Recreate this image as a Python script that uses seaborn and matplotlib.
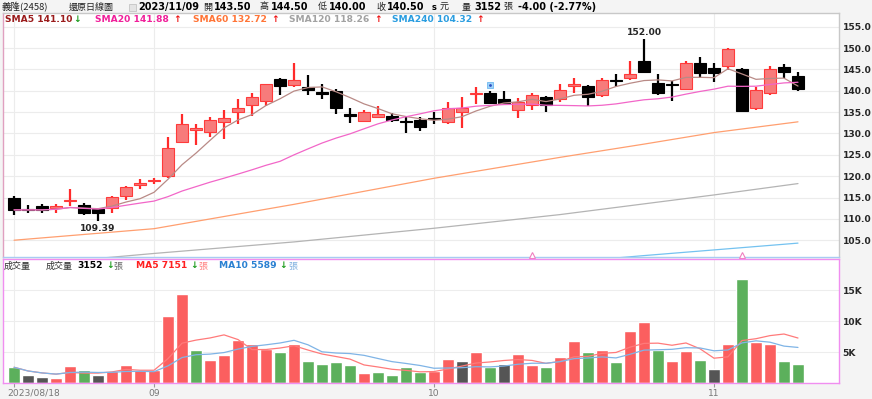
import numpy as np
import pandas as pd
import seaborn as sns
from matplotlib import pyplot as plt
from matplotlib import transforms
from matplotlib.patches import Rectangle

W, H = 872, 399
CJK = ["Noto Sans CJK TC", "DejaVu Sans"]

# daily candles, 2023/08/18 .. 2023/11/09
opens = [115.0, 112.3, 113.0, 112.6, 114.1, 113.2, 112.4, 112.5, 115.3, 118.0,
         118.8, 120.0, 128.1, 130.9, 130.4, 132.7, 135.0, 136.6, 137.7, 142.7,
         141.4, 140.9, 139.8, 140.0, 134.4, 133.0, 133.9, 134.1, 132.9, 133.15,
         133.6, 132.6, 135.0, 139.2, 139.5, 138.0, 135.5, 136.7, 138.6, 138.1,
         141.2, 141.0, 139.0, 142.4, 142.9, 147.0, 141.9, 141.5, 140.4, 146.4,
         145.4, 145.9, 145.1, 135.9, 139.4, 145.5, 143.5]
highs = [115.4, 113.2, 113.5, 113.5, 116.9, 113.6, 112.6, 115.4, 117.6, 119.3,
         119.5, 129.2, 134.6, 132.2, 133.8, 135.5, 138.0, 139.5, 141.6, 143.0,
         146.4, 143.6, 141.6, 140.3, 135.9, 135.5, 136.4, 134.9, 133.9, 133.8,
         135.1, 137.4, 138.5, 140.95, 140.0, 140.0, 138.4, 139.5, 138.7, 141.5,
         143.05, 141.3, 142.9, 143.85, 147.0, 152.0, 143.85, 142.3, 147.0, 148.0,
         146.4, 150.1, 145.3, 140.95, 145.9, 146.2, 144.5]
lows = [110.9, 111.3, 111.4, 111.3, 113.0, 110.9, 109.39, 111.3, 114.4, 116.9,
        118.2, 119.5, 127.7, 127.3, 129.1, 128.6, 132.2, 134.1, 136.4, 139.0,
        140.9, 138.9, 138.0, 134.6, 132.5, 132.6, 133.8, 132.7, 130.0, 130.6,
        132.2, 132.3, 131.2, 136.8, 137.0, 136.7, 133.55, 135.5, 135.0, 137.4,
        139.4, 136.5, 138.6, 140.95, 142.5, 144.1, 139.0, 137.6, 140.1, 143.05,
        142.1, 144.9, 134.95, 135.5, 139.0, 142.9, 140.0]
closes = [112.1, 112.1, 112.1, 112.7, 114.3, 111.4, 111.4, 115.2, 117.4, 118.2,
          118.9, 126.7, 132.2, 131.0, 133.1, 133.5, 136.0, 138.5, 141.6, 141.0,
          142.5, 140.1, 139.3, 135.9, 134.2, 135.1, 134.6, 133.2, 132.7, 131.6,
          133.3, 136.0, 136.0, 139.4, 137.1, 137.1, 137.4, 139.0, 136.7, 140.2,
          141.35, 138.6, 142.5, 142.3, 144.0, 144.5, 139.4, 141.3, 146.4, 144.1,
          144.1, 149.8, 135.25, 140.1, 145.1, 144.5, 140.5]

# volume in lots, and its colour class (close vs previous close)
volume = [2550, 1350, 1000, 860, 2760, 2060, 1350, 1950, 2920, 2060,
          2060, 10800, 14450, 5400, 3800, 4550, 7000, 6300, 5500, 5000,
          6400, 3500, 3100, 3460, 2900, 1680, 1840, 1250, 2550, 1730,
          1900, 3950, 3600, 5000, 2600, 3100, 4700, 2900, 2600, 4200,
          6800, 5100, 5300, 3350, 8500, 9850, 5300, 3600, 5200, 3800,
          2200, 6400, 16800, 6700, 6300, 3500, 3152]
vol_dir = ["down", "flat", "flat", "up", "up", "down", "flat", "up", "up", "up",
           "up", "up", "up", "down", "up", "up", "up", "up", "up", "down",
           "up", "down", "down", "down", "down", "up", "down", "down", "down", "down",
           "up", "up", "flat", "up", "down", "flat", "up", "up", "down", "up",
           "up", "down", "up", "down", "up", "up", "down", "up", "up", "down",
           "flat", "up", "down", "up", "up", "down", "down"]

# long moving averages read at a few candles
sma60_at = [0, 10, 20, 30, 39, 45, 50, 56]
sma60 = [105.0, 107.7, 113.4, 119.5, 124.4, 127.5, 130.2, 132.72]
sma120_at = [0, 10, 20, 30, 39, 50, 56]
sma120 = [99.0, 101.9, 104.6, 107.8, 111.0, 115.6, 118.26]
sma240_at = [0, 20, 40, 45, 56]
sma240 = [90.0, 95.0, 100.0, 101.4, 104.32]

tick_pos = [0, 10, 30, 50]
tick_labels = ["2023/08/18", "09", "10", "11"]
price_ticks = [105, 110, 115, 120, 125, 130, 135, 140, 145, 150, 155]
vol_ticks = [5, 10, 15]


def main():
    sns.set_style("white")
    plt.rcParams["font.family"] = CJK

    fig = plt.figure(figsize=(W / 100, H / 100), dpi=100, facecolor="#f4f4f4")
    ax = fig.add_axes([3 / W, 1 - 257 / H, 836 / W, 244 / H])
    axv = fig.add_axes([3 / W, 1 - 383 / H, 836 / W, 124 / H])

    x = np.arange(len(closes))
    o, h, l, c = map(np.array, (opens, highs, lows, closes))
    up = c > o

    # candles
    ax.vlines(x[up], l[up], h[up], colors="#ff2a2a", lw=1.6, zorder=2)
    ax.vlines(x[~up], l[~up], h[~up], colors="black", lw=1.6, zorder=2)
    body_h = np.maximum(np.abs(c - o), 0.3)
    body_b = np.minimum(o, c)
    ax.bar(x[up], body_h[up], bottom=body_b[up], width=0.88, color="#f77b7b",
           edgecolor="#ff3b3b", lw=0.8, zorder=3)
    ax.bar(x[~up], body_h[~up], bottom=body_b[~up], width=0.88, color="black",
           edgecolor="black", lw=0.8, zorder=3)

    close_s = pd.Series(closes)
    sns.lineplot(x=x, y=close_s.rolling(5, min_periods=1).mean(), ax=ax,
                 color="#b98a86", lw=0.9, zorder=4)
    sns.lineplot(x=x, y=close_s.rolling(20, min_periods=1).mean(), ax=ax,
                 color="#f266c8", lw=0.9, zorder=4)
    sns.lineplot(x=sma60_at, y=sma60, ax=ax, color="#ff9f70", lw=0.9, zorder=1)
    sns.lineplot(x=sma120_at, y=sma120, ax=ax, color="#b4b4b4", lw=0.9, zorder=1)
    sns.lineplot(x=sma240_at, y=sma240, ax=ax, color="#74c2f0", lw=0.9, zorder=1)

    ax.annotate("152.00", (45, highs[45]), xytext=(0, 2), textcoords="offset points",
                ha="center", va="bottom", fontsize=6.6, fontweight="bold",
                family="DejaVu Sans")
    ax.annotate("109.39", (6, lows[6]), xytext=(0, -1.5), textcoords="offset points",
                ha="center", va="top", fontsize=6.6, fontweight="bold",
                family="DejaVu Sans")
    ax.plot([34], [141.4], marker="s", ms=4.5, mfc="#9fd4fb", mec="#6fb8f0",
            mew=0.6, zorder=5)
    ax.plot([34], [141.4], marker=".", ms=2, color="#3050c0", zorder=6)

    ax.set_xlim(-0.79, 58.93)
    ax.set_ylim(101.07, 158.2)
    ax.plot([37, 52], [101.6, 101.6], ls="none", marker="^", ms=5, mfc="white",
            mec="#f080c0", mew=0.8, clip_on=False, zorder=6)
    ax.set_xticks(tick_pos)
    ax.set_yticks(price_ticks, [f"{t:.1f}" for t in price_ticks])
    ax.yaxis.tick_right()
    ax.tick_params(axis="x", length=0, labelbottom=False)
    ax.tick_params(axis="y", length=0, pad=2.5, labelsize=6.6)
    for t in ax.get_yticklabels():
        t.set_fontweight("bold")
        t.set_family("DejaVu Sans")
    ax.grid(True, color="#ececec", lw=0.8)
    ax.set_axisbelow(True)
    ax.set_xlabel("")
    ax.set_ylabel("")
    for side in ("top", "right"):
        ax.spines[side].set_color("#c8c8c8")
    ax.spines["left"].set_color("#e0a0c0")
    ax.spines["bottom"].set_color("#a8ccf2")
    for s in ax.spines.values():
        s.set_linewidth(1.0)

    # volume panel
    vdf = pd.DataFrame({"i": x, "v": np.array(volume) / 1000, "dir": vol_dir})
    pal = {"up": "#fb5f5f", "down": "#5cb05c", "flat": "#555555"}
    sns.barplot(data=vdf, x="i", y="v", hue="dir", palette=pal, native_scale=True,
                dodge=False, width=0.86, errorbar=None, legend=False, saturation=1,
                ax=axv, zorder=2)
    vol_s = pd.Series(volume) / 1000
    sns.lineplot(x=x, y=vol_s.rolling(5, min_periods=1).mean(), ax=axv,
                 color="#ff7a7a", lw=0.9, zorder=3)
    sns.lineplot(x=x, y=vol_s.rolling(10, min_periods=1).mean(), ax=axv,
                 color="#7fb4e6", lw=0.9, zorder=3)
    axv.set_xlim(-0.79, 58.93)
    axv.set_ylim(0, 20.1)
    axv.set_xticks(tick_pos, tick_labels)
    axv.set_yticks(vol_ticks, [f"{t}K" for t in vol_ticks])
    axv.yaxis.tick_right()
    axv.tick_params(axis="y", length=0, pad=2.5, labelsize=6.6)
    axv.tick_params(axis="x", length=3, width=0.8, color="#999999", pad=1,
                    labelsize=6.6, labelcolor="#777777", bottom=True)
    for t in axv.get_yticklabels():
        t.set_fontweight("bold")
        t.set_family("DejaVu Sans")
    for t in axv.get_xticklabels():
        t.set_family("DejaVu Sans")
    first = axv.get_xticklabels()[0]
    first.set_horizontalalignment("left")
    first.set_transform(first.get_transform() +
                        transforms.ScaledTranslation(-7 / 100, 0, fig.dpi_scale_trans))
    axv.grid(True, color="#ededed", lw=0.8)
    axv.set_axisbelow(True)
    axv.set_xlabel("")
    axv.set_ylabel("")
    for s in axv.spines.values():
        s.set_color("#f08ef0")
        s.set_linewidth(1.0)

    def label(xp, yp, s, color="black", size=6.6, bold=True, cjk=False):
        fig.text(xp / W, 1 - yp / H, s, color=color, fontsize=size,
                 fontweight="bold" if bold else "normal",
                 family=CJK if cjk else "DejaVu Sans", ha="left", va="center")

    # header line
    label(2, 7, "義隆(2458)", "#222222", 6.8, False, True)
    label(69, 7, "還原日線圖", "#222222", 6.5, False, True)
    fig.patches.append(Rectangle((129 / W, 1 - 11 / H), 7 / W, 7 / H,
                                 transform=fig.transFigure, fc="#e4e4e4",
                                 ec="#bdbdbd", lw=0.5))
    label(138, 7, "2023/11/09", size=7.0)
    label(203, 7, "開", "#222222", 6.5, False, True)
    label(214, 7, "143.50", size=7.0)
    label(260, 7, "高", "#222222", 6.5, False, True)
    label(271, 7, "144.50", size=7.0)
    label(318, 7, "低", "#222222", 6.5, False, True)
    label(329, 7, "140.00", size=7.0)
    label(376, 7, "收", "#222222", 6.5, False, True)
    label(387, 7, "140.50", size=7.0)
    label(432, 7, "s", size=6.0)
    label(440, 7, "元", "#222222", 6.5, False, True)
    label(462, 7, "量", "#222222", 6.5, False, True)
    label(474, 7, "3152", size=7.0)
    label(503, 7, "張", "#222222", 6.5, False, True)
    label(518, 7, "-4.00 (-2.77%)", size=7.0)

    # moving average legend
    label(5, 20, "SMA5 141.10", "#9b1c1c")
    label(73, 20, "↓", "#1a9a1a")
    label(95, 20, "SMA20 141.88", "#f0209a")
    label(173, 20, "↑", "#ee1111")
    label(193, 20, "SMA60 132.72", "#ff7436")
    label(271, 20, "↑", "#ee1111")
    label(289, 20, "SMA120 118.26", "#a2a2a2")
    label(374, 20, "↑", "#ee1111")
    label(392, 20, "SMA240 104.32", "#2a9de0")
    label(476, 20, "↑", "#ee1111")

    # volume legend
    label(4, 266, "成交量", "#333333", 6.5, False, True)
    label(46, 266, "成交量", "#333333", 6.5, False, True)
    label(77, 266, "3152")
    label(106, 266, "↓", "#1a9a1a")
    label(113, 266, "張", "#666666", 6.5, False, True)
    label(136, 266, "MA5 7151", "#ff2020")
    label(190, 266, "↓", "#1a9a1a")
    label(198, 266, "張", "#ff8080", 6.5, False, True)
    label(219, 266, "MA10 5589", "#2a80d2")
    label(279, 266, "↓", "#1a9a1a")
    label(288, 266, "張", "#80b0e0", 6.5, False, True)

    fig.savefig("out.png", dpi=100, facecolor=fig.get_facecolor())
    plt.close(fig)


if __name__ == '__main__':
    main()
